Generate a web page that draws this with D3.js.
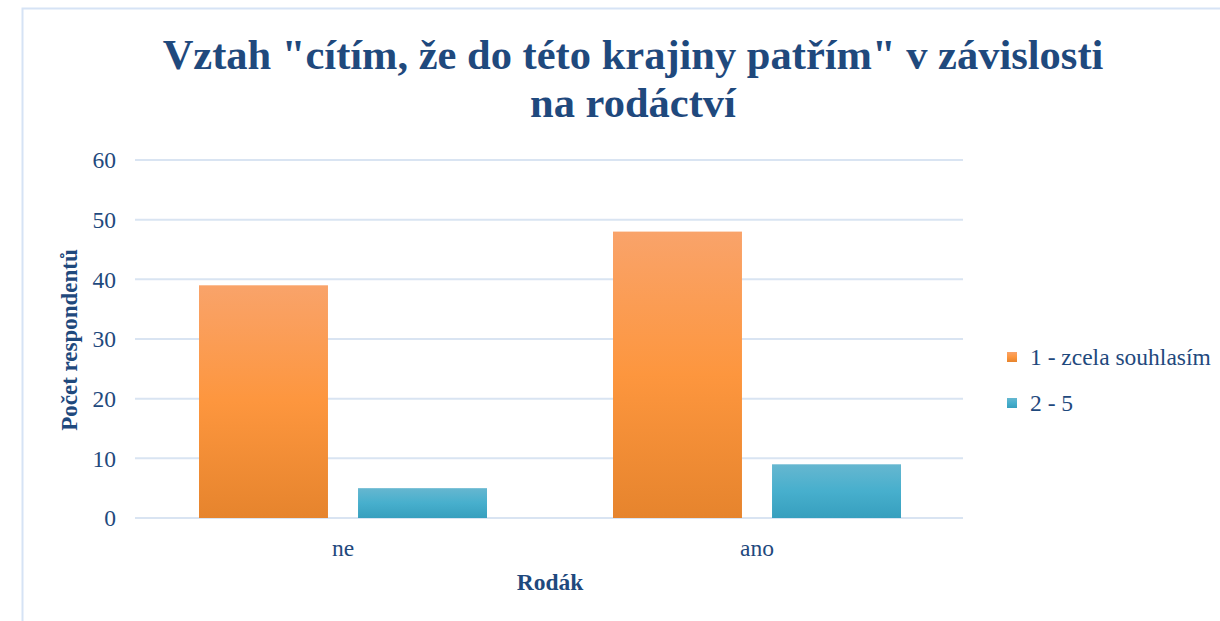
<!DOCTYPE html>
<html><head><meta charset="utf-8">
<script src="https://cdn.jsdelivr.net/npm/d3@7"></script>
<style>body{margin:0;background:#fff}svg{display:block}</style>
</head><body>
<script>
const categories = ["ne", "ano"];
const seriesNames = ["1 - zcela souhlasím", "2 - 5"];
const seriesAgree = [39, 48];
const seriesOther = [5, 9];
const yTicks = [0, 10, 20, 30, 40, 50, 60];
const titleLines = ['Vztah "cítím, že do této krajiny patřím" v závislosti', 'na rodáctví'];

const W = 1220, H = 621;
const svg = d3.select("body").append("svg").attr("width", W).attr("height", H);
const defs = svg.append("defs");
const g1 = defs.append("linearGradient").attr("id","gOr").attr("x1",0).attr("x2",0).attr("y1",0).attr("y2",1);
g1.append("stop").attr("offset","0%").attr("stop-color","#f9a36a");
g1.append("stop").attr("offset","50%").attr("stop-color","#fd963e");
g1.append("stop").attr("offset","100%").attr("stop-color","#e6842d");
const g2 = defs.append("linearGradient").attr("id","gBl").attr("x1",0).attr("x2",0).attr("y1",0).attr("y2",1);
g2.append("stop").attr("offset","0%").attr("stop-color","#66b7d0");
g2.append("stop").attr("offset","50%").attr("stop-color","#47afcd");
g2.append("stop").attr("offset","100%").attr("stop-color","#379fbe");
const fills = ["url(#gOr)", "url(#gBl)"];

// frame
svg.append("path").attr("d", `M22.5,${H} V8.5 H${W}`).attr("fill","none").attr("stroke","#d6e3f5").attr("stroke-width",2);

const font = "'Liberation Serif','Times New Roman',serif";
const col = "#1f497d";

const x0 = d3.scaleBand().domain(categories).range([135, 963]).paddingInner(0).paddingOuter(0);
const x1 = d3.scaleBand().domain([0,1]).range([64, 352]).paddingInner(0.189);
const y = d3.scaleLinear().domain([0, 60]).range([518, 160]);

// gridlines
svg.append("g").selectAll("line").data(yTicks).join("line")
  .attr("x1",135).attr("x2",963).attr("y1",d=>y(d)).attr("y2",d=>y(d))
  .attr("stroke","#d9e4f2").attr("stroke-width",2);

// y labels
svg.append("g").selectAll("text").data(yTicks).join("text")
  .attr("x",116).attr("y",d=>y(d)).attr("dy","0.35em").attr("text-anchor","end")
  .attr("font-family",font).attr("font-size",23.5).attr("fill",col).text(d=>d);

const data = categories.map((c,i)=>({c, vals:[seriesAgree[i], seriesOther[i]]}));
const grp = svg.append("g").selectAll("g").data(data).join("g")
  .attr("transform", d=>`translate(${x0(d.c)},0)`);
grp.selectAll("rect").data(d=>d.vals.map((v,k)=>({v,k}))).join("rect")
  .attr("x", d=>x1(d.k)).attr("width", x1.bandwidth())
  .attr("y", d=>y(d.v)).attr("height", d=>y(0)-y(d.v))
  .attr("fill", d=>fills[d.k]);

// category labels
svg.append("g").selectAll("text").data(categories).join("text")
  .attr("x", d=>x0(d)+x0.bandwidth()/2+1).attr("y",556).attr("text-anchor","middle")
  .attr("font-family",font).attr("font-size",23.5).attr("fill",col).text(d=>d);

// axis titles
svg.append("text").attr("x",550).attr("y",590).attr("text-anchor","middle")
  .attr("font-family",font).attr("font-size",23.5).attr("font-weight","bold").attr("fill",col).text("Rodák");
svg.append("text").attr("transform","translate(77,340) rotate(-90)").attr("text-anchor","middle")
  .attr("font-family",font).attr("font-size",23).attr("font-weight","bold").attr("fill",col).text("Počet respondentů");

// title
svg.append("g").selectAll("text").data(titleLines).join("text")
  .attr("x",633).attr("y",(d,i)=>69+i*48).attr("text-anchor","middle")
  .attr("font-family",font).attr("font-size",42.5).attr("font-weight","bold").attr("fill",col).text(d=>d);

// legend
const lg = svg.append("g").selectAll("g").data(seriesNames).join("g")
  .attr("transform",(d,i)=>`translate(1007,${352+i*46})`);
lg.append("rect").attr("width",10).attr("height",10).attr("fill",(d,i)=>fills[i]);
lg.append("text").attr("x",23).attr("y",5).attr("dy","0.35em")
  .attr("font-family",font).attr("font-size",23.5).attr("fill",col).text(d=>d);
</script>
</body></html>
